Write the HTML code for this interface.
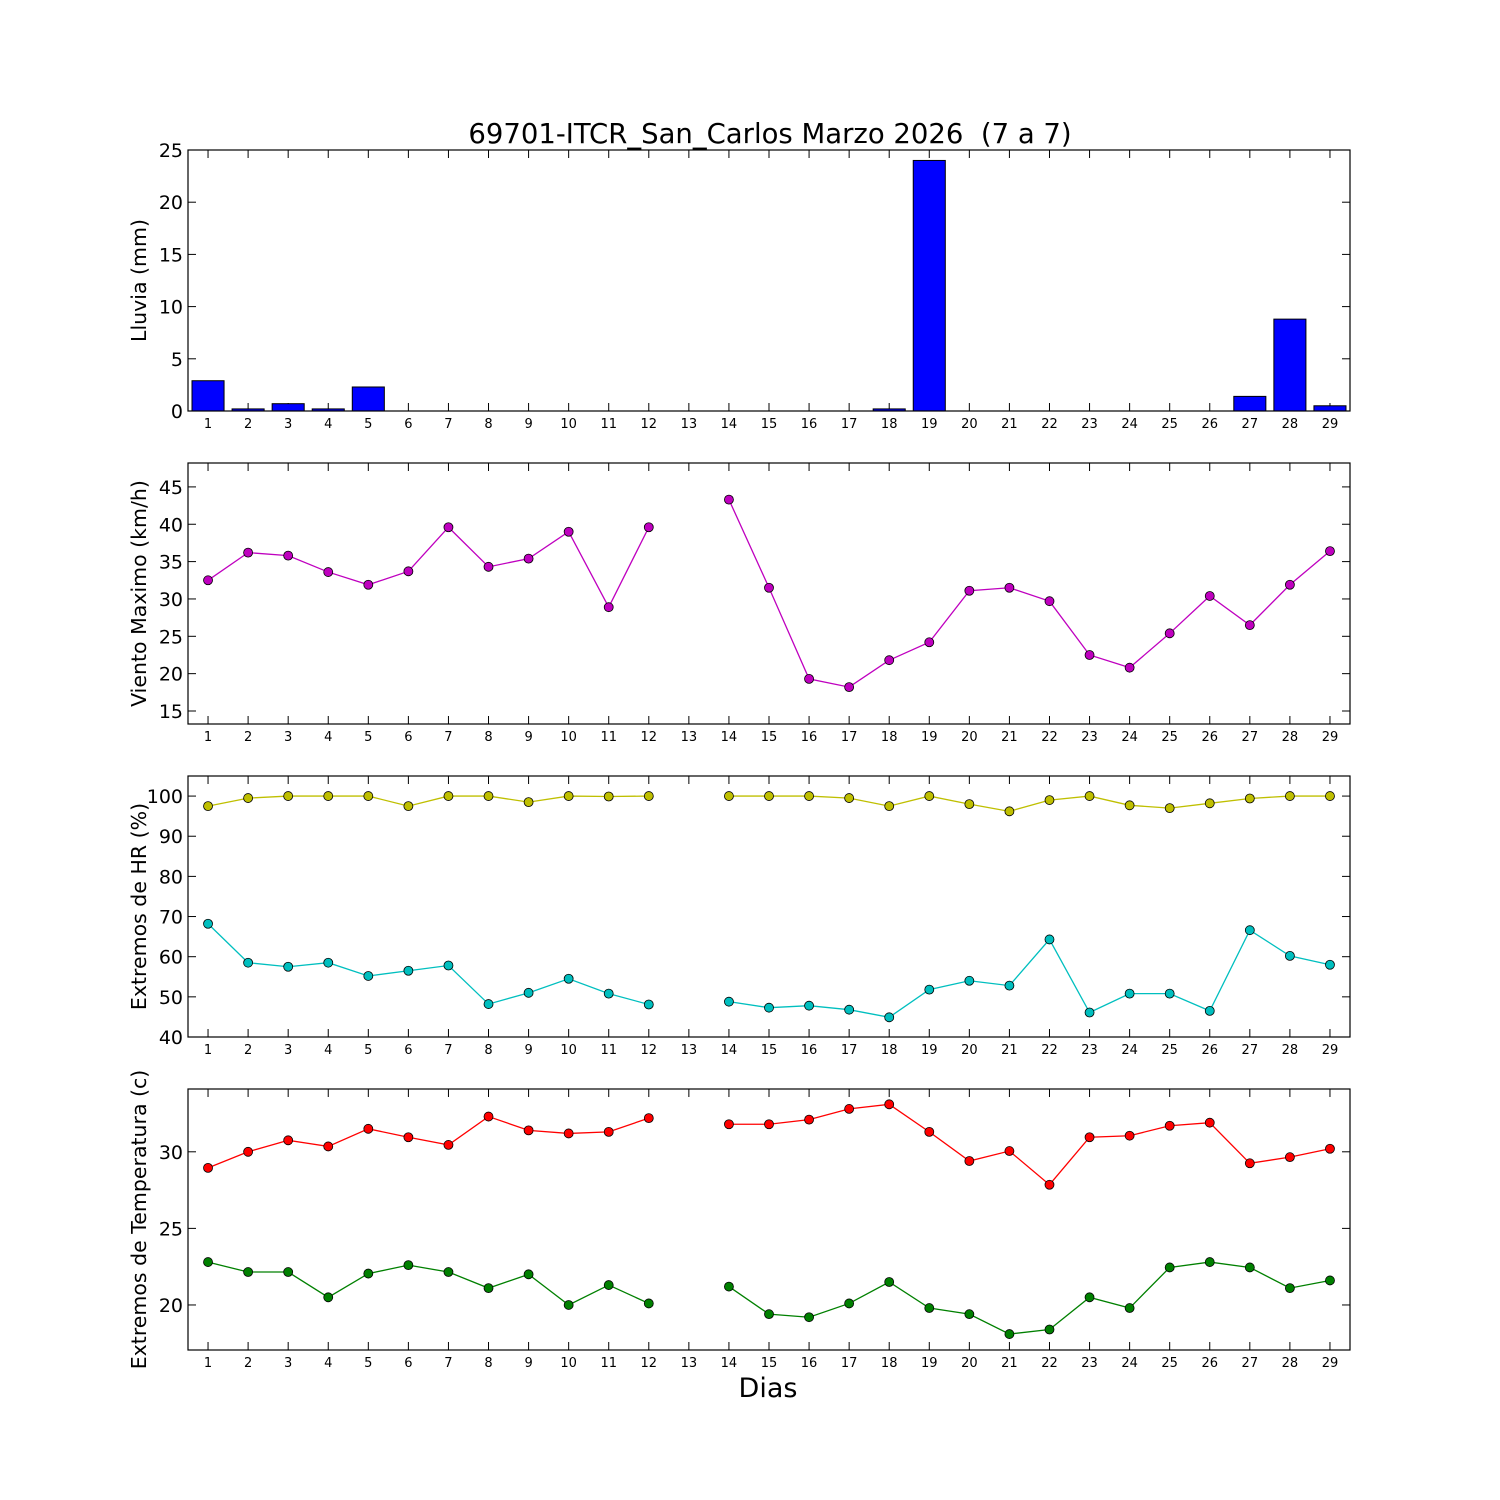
<!DOCTYPE html>
<html><head><meta charset="utf-8"><style>body{margin:0;background:#fff}svg{display:block}text{font-family:"DejaVu Sans","Liberation Sans",sans-serif}</style></head>
<body>
<svg id="c" width="1500" height="1500" viewBox="0 0 1500 1500">
<rect width="1500" height="1500" fill="#fff"/>
</svg>
<script>
const days=[1,2,3,4,5,6,7,8,9,10,11,12,13,14,15,16,17,18,19,20,21,22,23,24,25,26,27,28,29];
const rain=[2.9,0.2,0.7,0.2,2.3,0,0,0,0,0,0,0,0,0,0,0,0,0.2,24,0,0,0,0,0,0,0,1.4,8.8,0.5];
const wind=[32.5,36.2,35.8,33.6,31.9,33.7,39.6,34.3,35.4,39.0,28.9,39.6,null,43.3,31.5,19.3,18.2,21.8,24.2,31.1,31.5,29.7,22.5,20.8,25.4,30.4,26.5,31.9,36.4];
const hrMax=[97.5,99.5,100,100,100,97.5,100,100,98.5,100,99.9,100,null,100,100,100,99.5,97.5,100,98,96.2,99,100,97.7,97,98.2,99.4,100,100];
const hrMin=[68.2,58.5,57.5,58.5,55.2,56.5,57.8,48.2,51,54.5,50.8,48.1,null,48.8,47.3,47.8,46.8,44.9,51.8,54,52.8,64.3,46.1,50.8,50.8,46.5,66.6,60.2,58];
const tMax=[28.95,30,30.75,30.35,31.5,30.95,30.45,32.3,31.4,31.2,31.3,32.2,null,31.8,31.8,32.1,32.8,33.1,31.3,29.4,30.05,27.85,30.95,31.05,31.7,31.9,29.25,29.65,30.2];
const tMin=[22.8,22.15,22.15,20.5,22.05,22.6,22.15,21.1,22,20,21.3,20.1,null,21.2,19.4,19.2,20.1,21.5,19.8,19.4,18.1,18.4,20.5,19.8,22.45,22.8,22.45,21.1,21.6];
const rainTicks=[0,5,10,15,20,25];
const windTicks=[15,20,25,30,35,40,45];
const hrTicks=[40,50,60,70,80,90,100];
const tTicks=[20,25,30];
const svg=document.getElementById('c');const NS='http://www.w3.org/2000/svg';
function mk(t,a,p){const e=document.createElementNS(NS,t);for(const k in a)e.setAttribute(k,a[k]);(p||svg).appendChild(e);return e;}
const X0=188,X1=1350;
const xs=d=>X0+(d-0.5)*(X1-X0)/29;
function panel(name,top,bot,ymin,ymax,ticks,label){
  const g=mk('g',{});
  
  
  const ys=v=>bot-(v-ymin)/(ymax-ymin)*(bot-top);
  ticks.forEach(t=>{const y=ys(t);
    mk('line',{x1:X0,x2:X0+8,y1:y,y2:y,stroke:'#000'},g);mk('line',{x1:X1-8,x2:X1,y1:y,y2:y,stroke:'#000'},g);
    const tx=mk('text',{x:X0-5,y:y+7,'text-anchor':'end','font-size':19},g);tx.textContent=t;
    
    });
  days.forEach(d=>{const x=xs(d);
    mk('line',{x1:x,x2:x,y1:bot,y2:bot-8,stroke:'#000'},g);mk('line',{x1:x,x2:x,y1:top,y2:top+8,stroke:'#000'},g);
    const tx=mk('text',{x:x,y:bot+17,'text-anchor':'middle','font-size':13},g);tx.textContent=d;
    
    });
  const cy=(top+bot)/2;
  const l=mk('text',{x:0,y:0,'text-anchor':'middle','font-size':20.5,transform:`translate(146,${cy}) rotate(-90)`},g);l.textContent=label;
  
  
  return {g,ys,frame:()=>mk('rect',{x:X0,y:top,width:X1-X0,height:bot-top,fill:'none',stroke:'#000','stroke-width':1.2},g)};
}
function series(p,vals,color,name){
  let d='',pen=false;
  vals.forEach((v,i)=>{if(v==null){pen=false;return;}d+=(pen?'L':'M')+xs(days[i])+' '+p.ys(v)+' ';pen=true;});
  const path=mk('path',{d:d,fill:'none',stroke:color,'stroke-width':1.3},p.g);
  
  
  vals.forEach((v,i)=>{if(v==null)return;
    const c=mk('circle',{cx:xs(days[i]),cy:p.ys(v),r:4.5,fill:color,stroke:'#000','stroke-width':0.8},p.g);
    
    });
}
const p1=panel('rain-panel',150,411,0,25,rainTicks,'Lluvia (mm)');
rain.forEach((v,i)=>{const w=(X1-X0)/29*0.8;const x=xs(days[i])-w/2;const y=p1.ys(v);
  const r=mk('rect',{x:x,y:y,width:w,height:p1.ys(0)-y,fill:'#0000ff',stroke:'#000','stroke-width':1},p1.g);
  
  });
p1.frame();
const p2=panel('wind-panel',463,724,13.26,48.2,windTicks,'Viento Maximo (km/h)');
series(p2,wind,'#bf00bf','wind');p2.frame();
const p3=panel('humidity-panel',776,1037,40,105,hrTicks,'Extremos de HR (%)');
series(p3,hrMax,'#bfbf00','hr-max');series(p3,hrMin,'#00bfbf','hr-min');p3.frame();
const p4=panel('temperature-panel',1089,1350,17.06,34.1,tTicks,'Extremos de Temperatura (c)');
series(p4,tMax,'#ff0000','temp-max');series(p4,tMin,'#008000','temp-min');p4.frame();
const t=mk('text',{x:770,y:143,'text-anchor':'middle','font-size':27.5});t.textContent='69701-ITCR_San_Carlos Marzo 2026  (7 a 7)';


t.style.whiteSpace='pre';
const xl=mk('text',{x:768,y:1397,'text-anchor':'middle','font-size':27});xl.textContent='Dias';


</script>
</body></html>
